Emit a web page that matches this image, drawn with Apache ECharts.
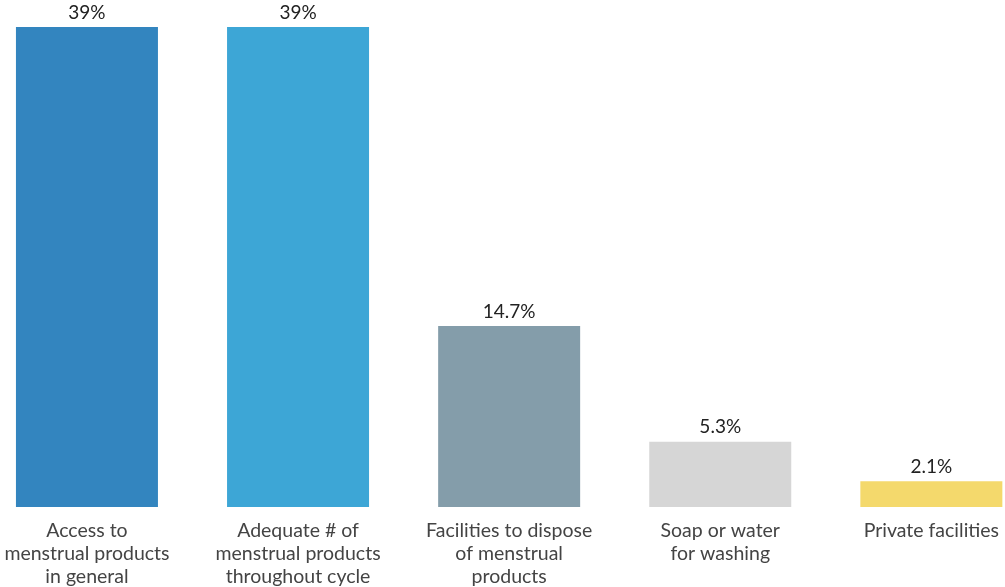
<!DOCTYPE html>
<html>
<head>
<meta charset="utf-8">
<script src="https://cdn.jsdelivr.net/npm/echarts@6/dist/echarts.min.js"></script>
<style>
html,body{margin:0;padding:0;background:#fff;}
#chart{width:1005px;height:587px;}
</style>
</head>
<body>
<div id="chart"></div>
<script>
var categories = [
  "Access to\nmenstrual products\nin general",
  "Adequate # of\nmenstrual products\nthroughout cycle",
  "Facilities to dispose\nof menstrual\nproducts",
  "Soap or water\nfor washing",
  "Private facilities"
];
var values = [39, 39, 14.7, 5.3, 2.1];
var valueLabels = ["39%", "39%", "14.7%", "5.3%", "2.1%"];
var barColors = ["#3385BF", "#3DA6D6", "#849DAA", "#D6D6D6", "#F4D96C"];

var chart = echarts.init(document.getElementById('chart'), null, {renderer: 'canvas'});
chart.setOption({
  animation: false,
  grid: {left: -18.6, right: -31.9, top: 27, bottom: 80, containLabel: false, outerBoundsMode: 'none'},
  xAxis: {
    type: 'category',
    data: categories,
    axisLine: {show: false},
    axisTick: {show: false},
    axisLabel: {
      interval: 0,
      margin: 12,
      color: '#444',
      fontFamily: 'Lato',
      fontSize: 19.5,
      lineHeight: 23,
      hideOverlap: false
    }
  },
  yAxis: {
    type: 'value',
    min: 0,
    max: 39,
    show: false,
    splitLine: {show: false}
  },
  series: [{
    type: 'bar',
    barWidth: 142,
    data: values.map(function (v, i) {
      return {value: v, itemStyle: {color: barColors[i]}};
    }),
    label: {
      show: true,
      position: 'top',
      distance: 5,
      color: '#222',
      fontFamily: 'Lato',
      fontSize: 19,
      formatter: function (p) { return valueLabels[p.dataIndex]; }
    }
  }]
});
</script>
</body>
</html>
